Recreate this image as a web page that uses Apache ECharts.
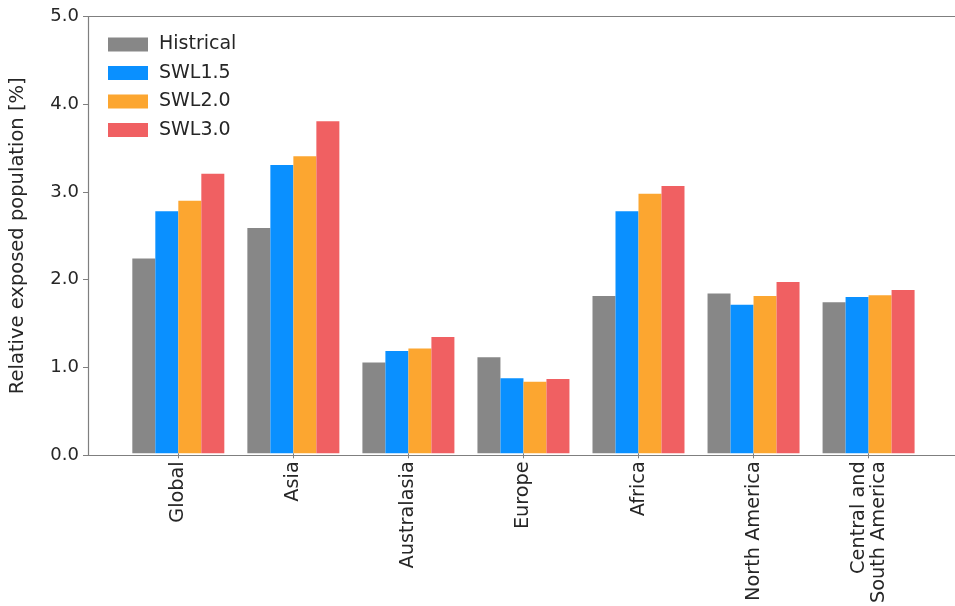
<!DOCTYPE html>
<html>
<head>
<meta charset="utf-8">
<script src="https://cdn.jsdelivr.net/npm/echarts@6/dist/echarts.min.js"></script>
<style>
  html, body { margin: 0; padding: 0; background: #ffffff; }
  #chart { width: 955px; height: 606px; }
</style>
</head>
<body>
<div id="chart"></div>
<script>
// Regions on the category axis
const regions = ['Global', 'Asia', 'Australasia', 'Europe', 'Africa', 'North America', 'Central and\nSouth America'];

// Relative exposed population [%] per scenario
const historical = [2.23, 2.58, 1.04, 1.10, 1.80, 1.83, 1.73];
const swl15      = [2.77, 3.30, 1.17, 0.86, 2.77, 1.70, 1.79];
const swl20      = [2.89, 3.40, 1.20, 0.82, 2.97, 1.80, 1.81];
const swl30      = [3.20, 3.80, 1.33, 0.85, 3.06, 1.96, 1.87];

const seriesNames = ['Histrical', 'SWL1.5', 'SWL2.0', 'SWL3.0'];
const seriesColors = ['#878787', '#0a90ff', '#fca630', '#f06062'];

// Value axis range and step
const yMin = 0;
const yMax = 5;
const yStep = 1;

const FONT = 'DejaVu Sans';
const TEXT = '#262626';
const SPINE = '#7f7f7f';

const chart = echarts.init(document.getElementById('chart'), null, { renderer: 'canvas' });

const values = [historical, swl15, swl20, swl30];

const option = {
  animation: false,
  backgroundColor: '#ffffff',
  textStyle: { fontFamily: FONT },
  grid: [
    // frame: left spine, top and bottom lines
    { left: 86, right: -30, top: 16.5, bottom: 151, containLabel: false },
    // bars
    { left: 120.8, right: 28.9, top: 16.5, bottom: 151, containLabel: false }
  ],
  legend: {
    orient: 'vertical',
    left: 103,
    top: 30,
    itemWidth: 40,
    itemHeight: 14,
    itemGap: 9.5,
    icon: 'rect',
    data: seriesNames,
    textStyle: { fontFamily: FONT, fontSize: 19, color: TEXT, lineHeight: 19, padding: [0, 0, 0, 6] }
  },
  xAxis: [
    {
      gridIndex: 0, type: 'value', min: 0, max: 1, position: 'bottom',
      axisLine: { show: true, lineStyle: { color: SPINE, width: 1.2 } },
      axisTick: { show: false }, axisLabel: { show: false }, splitLine: { show: false }
    },
    {
      gridIndex: 0, type: 'value', min: 0, max: 1, position: 'top',
      axisLine: { show: true, lineStyle: { color: SPINE, width: 1.2 } },
      axisTick: { show: false }, axisLabel: { show: false }, splitLine: { show: false }
    },
    {
      gridIndex: 1, type: 'category', data: regions, position: 'bottom',
      axisLine: { show: false },
      axisTick: { show: true, alignWithLabel: true, length: 5, lineStyle: { color: SPINE, width: 1 } },
      axisLabel: {
        rotate: 90, margin: 8, interval: 0,
        fontFamily: FONT, fontSize: 19.3, color: TEXT, lineHeight: 20
      },
      splitLine: { show: false }
    }
  ],
  yAxis: [
    {
      gridIndex: 0, type: 'value', min: yMin, max: yMax, interval: yStep,
      axisLine: { show: true, lineStyle: { color: SPINE, width: 1.2 } },
      axisTick: { show: true, inside: false, length: 5, lineStyle: { color: SPINE, width: 1 } },
      axisLabel: {
        margin: 9, fontFamily: FONT, fontSize: 18, color: TEXT,
        formatter: v => v.toFixed(1)
      },
      splitLine: { show: false },
      name: 'Relative exposed population [%]',
      nameLocation: 'middle',
      nameGap: 60,
      nameTextStyle: { fontFamily: FONT, fontSize: 19.5, color: TEXT }
    },
    {
      gridIndex: 1, type: 'value', min: yMin, max: yMax, interval: yStep, show: false,
      splitLine: { show: false }
    }
  ],
  series: seriesNames.map((name, i) => ({
    name: name,
    type: 'bar',
    xAxisIndex: 2,
    yAxisIndex: 1,
    data: values[i],
    barWidth: 23,
    barGap: '0%',
    itemStyle: { color: seriesColors[i] }
  }))
};

chart.setOption(option);
</script>
</body>
</html>
